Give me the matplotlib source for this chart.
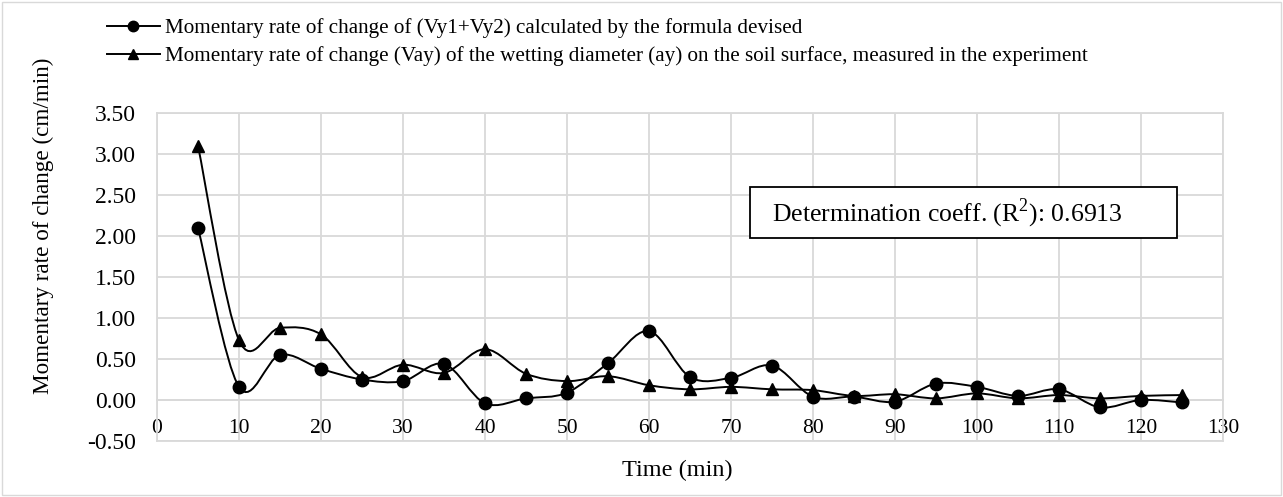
import matplotlib
matplotlib.use("Agg")
import matplotlib.pyplot as plt
from matplotlib.path import Path
from matplotlib.patches import PathPatch, Rectangle
from matplotlib.lines import Line2D

plt.rcParams['font.family'] = ['Liberation Serif', 'DejaVu Serif']
plt.rcParams['mathtext.fontset'] = 'custom'
plt.rcParams['mathtext.rm'] = 'Liberation Serif'
plt.rcParams['font.size'] = 15

time_min = [5, 10, 15, 20, 25, 30, 35, 40, 45, 50, 55, 60, 65,
            70, 75, 80, 85, 90, 95, 100, 105, 110, 115, 120, 125]
formula_rate = [2.10, 0.16, 0.55, 0.38, 0.25, 0.23, 0.44, -0.04, 0.02, 0.09, 0.45, 0.84, 0.28,
                0.27, 0.42, 0.04, 0.04, -0.02, 0.20, 0.16, 0.05, 0.13, -0.09, 0.00, -0.03]
measured_rate = [3.10, 0.73, 0.88, 0.80, 0.28, 0.43, 0.33, 0.62, 0.32, 0.23, 0.29, 0.18, 0.13,
                 0.16, 0.13, 0.12, 0.05, 0.07, 0.02, 0.08, 0.02, 0.06, 0.02, 0.05, 0.06]

label_formula = "Momentary rate of change of (Vy1+Vy2) calculated by the formula devised"
label_measured = ("Momentary rate of change (Vay) of the wetting diameter (ay) "
                  "on the soil surface, measured in the experiment")
r2_text = r"Determination coeff. (R$^\mathrm{2}$): 0.6913"

x_ticks = list(range(0, 131, 10))
y_ticks = [-0.5, 0.0, 0.5, 1.0, 1.5, 2.0, 2.5, 3.0, 3.5]
grid_col = '#d9d9d9'

W, H = 1283, 497


def smooth_path(xs, ys):
    # Excel-like smoothed line: Catmull-Rom segments as cubic Bezier curves
    pts = list(zip(xs, ys))
    verts = [pts[0]]
    codes = [Path.MOVETO]
    n = len(pts)
    for i in range(n - 1):
        p0 = pts[i - 1] if i > 0 else pts[i]
        p1 = pts[i]
        p2 = pts[i + 1]
        p3 = pts[i + 2] if i + 2 < n else pts[i + 1]
        c1 = (p1[0] + (p2[0] - p0[0]) / 6, p1[1] + (p2[1] - p0[1]) / 6)
        c2 = (p2[0] - (p3[0] - p1[0]) / 6, p2[1] - (p3[1] - p1[1]) / 6)
        verts += [c1, c2, p2]
        codes += [Path.CURVE4] * 3
    return Path(verts, codes)


fig = plt.figure(figsize=(W / 100, H / 100), dpi=100)
ax = fig.add_axes([157 / W, 1 - 441 / H, 1066 / W, 328 / H])

for ys, mk in [(formula_rate, 'o'), (measured_rate, '^')]:
    ax.add_patch(PathPatch(smooth_path(time_min, ys), facecolor='none',
                           edgecolor='black', lw=1.4, zorder=3))
    ax.plot(time_min, ys, linestyle='none', marker=mk, color='black',
            markersize=9, zorder=4)

ax.set_xlim(0, 130)
ax.set_ylim(-0.5, 3.5)
ax.set_xticks(x_ticks)
ax.set_yticks(y_ticks)
ax.set_yticklabels([f"{v:.2f}" for v in y_ticks])
ax.grid(True, color=grid_col, lw=1.3, zorder=0)
for s in ax.spines.values():
    s.set_color(grid_col)
    s.set_linewidth(1.3)
ax.spines['bottom'].set_position(('data', 0))
ax.axhline(-0.5, color=grid_col, lw=1.3, clip_on=False, zorder=1)
ax.tick_params(axis='both', length=0)
ax.tick_params(axis='x', pad=14, labelsize=15.5)
ax.tick_params(axis='y', pad=15, labelsize=17)

fig.text(677 / W, 1 - 470 / H, "Time (min)", ha='center', va='center', fontsize=17.5)
fig.text(43 / W, 1 - 226 / H, "Momentary rate of change (cm/min)", ha='center',
         va='center', rotation=90, fontsize=16.7)

handles = [Line2D([], [], color='black', lw=1.4, marker='o', markersize=7.5),
           Line2D([], [], color='black', lw=1.4, marker='^', markersize=7.5)]
fig.legend(handles, [label_formula, label_measured], loc='upper left',
           bbox_to_anchor=(107 / W, 1 - 18 / H), frameon=False,
           borderaxespad=0, borderpad=0,
           handlelength=2.5, handletextpad=0.25, labelspacing=0.4, fontsize=15.2)

fig.patches.append(Rectangle((750 / W, 1 - 238 / H), 427 / W, 51 / H,
                             transform=fig.transFigure, facecolor='white',
                             edgecolor='black', lw=1.3, zorder=5))
fig.text(772 / W, 1 - 213 / H, r2_text, ha='left', va='center',
         fontsize=18.5, zorder=6)

fig.patches.append(Rectangle((2 / W, 2 / H), 1279 / W, 493 / H,
                             transform=fig.transFigure, facecolor='none',
                             edgecolor=grid_col, lw=1.0))

fig.savefig("out.png", dpi=100)
